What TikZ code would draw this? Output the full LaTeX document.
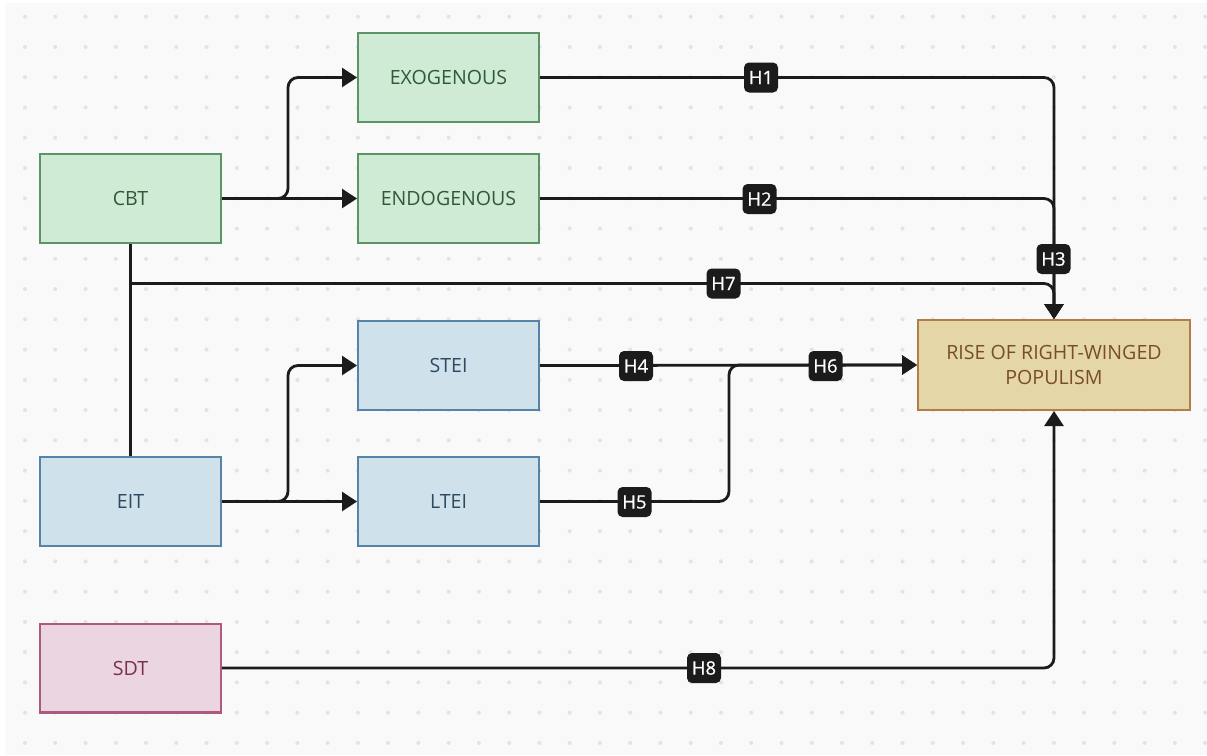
\documentclass[tikz,border=0pt]{standalone}
\usepackage{fontspec}
\setmainfont{Open Sans}
\newfontfamily\labelfont{Open Sans}[FakeBold=0.6]
\usetikzlibrary{arrows.meta}
\definecolor{bgc}{HTML}{F9F9F9}
\definecolor{dotc}{HTML}{E2E2E9}
\definecolor{gfill}{HTML}{CFEBD6}
\definecolor{gdraw}{HTML}{5C9466}
\definecolor{gtext}{HTML}{2F5A38}
\definecolor{bfill}{HTML}{CFE2EB}
\definecolor{bdraw}{HTML}{5683A6}
\definecolor{btext}{HTML}{2D4A63}
\definecolor{pfill}{HTML}{EAD5E1}
\definecolor{pdraw}{HTML}{AE5A7F}
\definecolor{ptext}{HTML}{7A2F52}
\definecolor{tfill}{HTML}{E4D6A6}
\definecolor{tdraw}{HTML}{B07D4B}
\definecolor{ttext}{HTML}{7A4D2A}
\definecolor{linec}{HTML}{1B1B1B}
\tikzset{
  box/.style={draw, line width=2.4pt, minimum width=180.6pt, minimum height=88.6pt, inner sep=2pt, align=center, font=\fontsize{19.6}{25}\selectfont},
  gbox/.style={box, fill=gfill, draw=gdraw, text=gtext},
  bbox/.style={box, fill=bfill, draw=bdraw, text=btext},
  pbox/.style={box, fill=pfill, draw=pdraw, text=ptext},
  tbox/.style={box, fill=tfill, draw=tdraw, text=ttext, minimum width=271.6pt, minimum height=89.6pt},
  wire/.style={draw=linec, line width=2.8pt, rounded corners=10pt},
  conn/.style={wire, -{Triangle[length=15pt, width=19pt]}},
  hl/.style={fill=linec, text=white, rounded corners=5pt, minimum width=34pt, minimum height=30pt, inner sep=1pt, font=\labelfont\fontsize{18.5}{20}\selectfont}
}
\begin{document}
\begin{tikzpicture}[x=1pt, y=-1pt]
\useasboundingbox (0,0) rectangle (1207,755);
\fill[white] (0,0) rectangle (1207,755);
\fill[bgc] (5,3) rectangle (1207,755);
\foreach \i in {0,...,39} {
  \foreach \j in {0,...,24} {
    \fill[dotc] ({25+30.26*\i},{16.7+30.26*\j}) circle (2pt);
  }
}
% nodes
\node[gbox] (CBT) at (130.5,198.5) {CBT};
\node[gbox] (EXO) at (448.5,77.5) {EXOGENOUS};
\node[gbox] (ENDO) at (448.5,198.5) {ENDOGENOUS};
\node[bbox] (STEI) at (448.5,365.5) {STEI};
\node[bbox] (LTEI) at (448.5,501.5) {LTEI};
\node[bbox] (EIT) at (130.5,501.5) {EIT};
\node[pbox] (SDT) at (130.5,668) {SDT};
\node[tbox] (RISE) at (1054,365) {RISE OF RIGHT-WINGED\\POPULISM};
% connectors
\draw[conn] (CBT.east) -- ++(66,0) |- (EXO.west);
\draw[conn] (CBT.east) -- (ENDO.west);
\draw[conn] (EXO.east) -| (RISE.north);
\draw[conn] (ENDO.east) -| (RISE.north);
\draw[wire] (CBT.south) -- (EIT.north);
\coordinate (j7) at (130.5,283.5);
\draw[conn] (j7) -| (RISE.north);
\draw[conn] (EIT.east) -- ++(66,0) |- (STEI.west);
\draw[conn] (EIT.east) -- (LTEI.west);
\draw[conn] (STEI.east) -- (RISE.west);
\draw[conn] (LTEI.east) -- ++(189,0) |- (RISE.west);
\draw[conn] (SDT.east) -| (RISE.south);
% labels
\node[hl] (h1) at (761,77.5) {H1};
\node[hl] (h2) at (759.5,199) {H2};
\node[hl] (h3) at (1053.5,259) {H3};
\node[hl] (h7) at (723.5,283.5) {H7};
\node[hl] (h4) at (636,366) {H4};
\node[hl] (h6) at (825.5,366) {H6};
\node[hl] (h5) at (634.5,502) {H5};
\node[hl] (h8) at (704,668) {H8};
\end{tikzpicture}
\end{document}
